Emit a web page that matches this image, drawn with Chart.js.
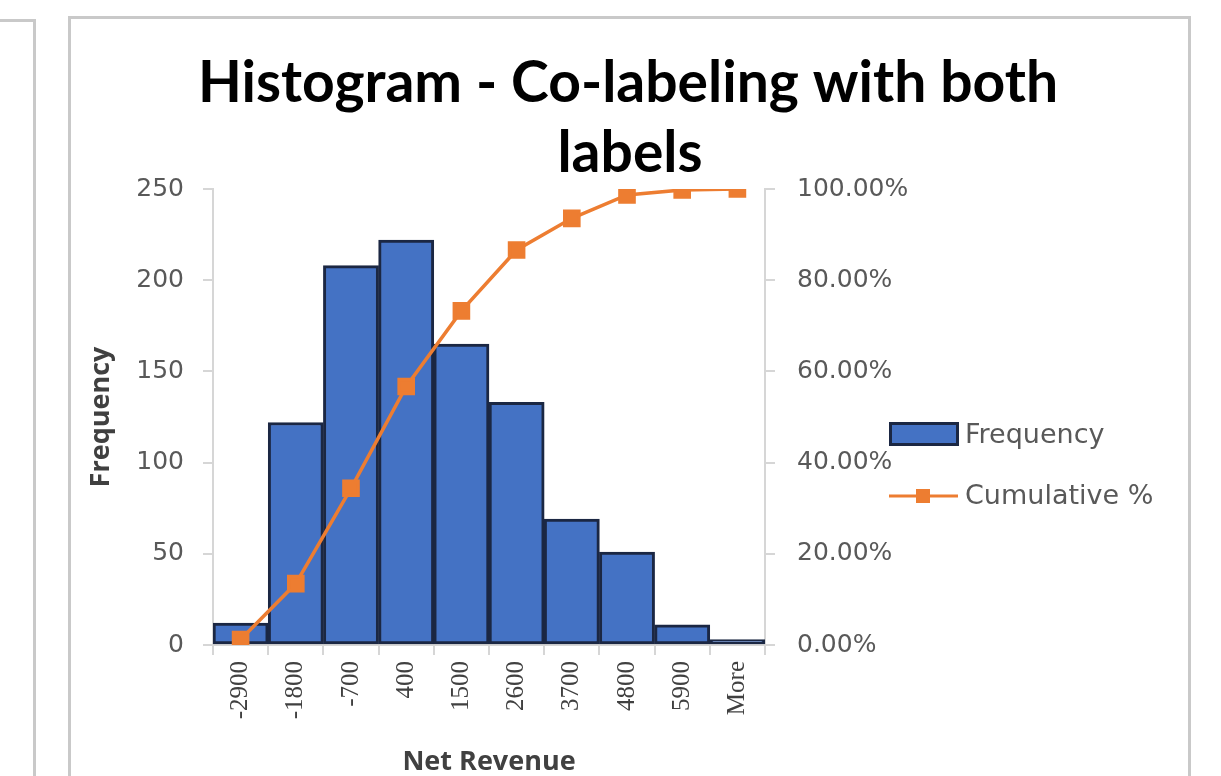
<!DOCTYPE html>
<html>
<head>
<meta charset="utf-8">
<script src="https://cdn.jsdelivr.net/npm/chart.js@4/dist/chart.umd.min.js"></script>
<style>
  html, body { margin: 0; padding: 0; background: #fff; }
  body { width: 1221px; height: 776px; position: relative; overflow: hidden; }
  .panel { position: absolute; border: 3px solid #c9c9c9; box-sizing: border-box; }
  #side { left: -10px; top: 19px; width: 46px; height: 800px; }
  #frame { left: 68px; top: 16px; width: 1123px; height: 800px; }
  #chart { position: absolute; left: 0; top: 0; }
</style>
</head>
<body>
<div class="panel" id="side"></div>
<div class="panel" id="frame"></div>
<canvas id="chart" width="1221" height="776"></canvas>
<script>
// Histogram bins (upper bin edges) for net revenue
const binLabels = ['-2900', '-1800', '-700', '400', '1500', '2600', '3700', '4800', '5900', 'More'];
// Count of records falling in each bin
const frequency = [12, 122, 208, 222, 165, 133, 69, 51, 11, 3];
// Running share of records up to each bin
const cumulativeShare = [0.0121, 0.1347, 0.3437, 0.5668, 0.7327, 0.8663, 0.9357, 0.9869, 0.9980, 1.0];
// Chart heading, split over two lines
const titleLines = ['Histogram - Co-labeling with both', 'labels'];

const BLUE = '#4472C4';
const BAR_EDGE = '#1b2743';
const ORANGE = '#ED7D31';
const AXIS = '#d6d6d6';
const TICK_TEXT = '#595959';

// Heading drawn above the plot
const headingPlugin = {
  id: 'heading',
  afterDraw(chart) {
    const ctx = chart.ctx;
    ctx.save();
    ctx.fillStyle = '#000';
    ctx.font = 'bold 57px Lato';
    ctx.textAlign = 'center';
    ctx.textBaseline = 'alphabetic';
    ctx.fillText(titleLines[0], 628, 102);
    ctx.fillText(titleLines[1], 630, 172);
    ctx.restore();
  }
};

// Legend to the right of the plot, built from the datasets
const sideLegendPlugin = {
  id: 'sideLegend',
  afterDraw(chart) {
    const ctx = chart.ctx;
    const [barSet, lineSet] = chart.data.datasets;
    ctx.save();
    // bar entry
    ctx.fillStyle = barSet.backgroundColor;
    ctx.fillRect(890, 423, 68, 22);
    ctx.strokeStyle = barSet.borderColor;
    ctx.lineWidth = 3;
    ctx.strokeRect(890.5, 423.5, 67, 21);
    // line entry
    ctx.strokeStyle = lineSet.borderColor;
    ctx.lineWidth = 3;
    ctx.beginPath();
    ctx.moveTo(889, 496);
    ctx.lineTo(958, 496);
    ctx.stroke();
    ctx.fillStyle = lineSet.backgroundColor;
    ctx.fillRect(916, 489, 14, 14);
    // labels
    ctx.fillStyle = TICK_TEXT;
    ctx.font = '27px "DejaVu Sans"';
    ctx.textAlign = 'left';
    ctx.textBaseline = 'middle';
    ctx.fillText(barSet.label, 965, 436);
    ctx.fillText(lineSet.label, 965, 497);
    ctx.restore();
  }
};

new Chart(document.getElementById('chart'), {
  data: {
    labels: binLabels,
    datasets: [
      {
        type: 'bar',
        label: 'Frequency',
        data: frequency,
        yAxisID: 'y',
        backgroundColor: BLUE,
        borderColor: BAR_EDGE,
        borderWidth: 3,
        borderSkipped: false,
        barPercentage: 1,
        categoryPercentage: 1,
        order: 2
      },
      {
        type: 'line',
        label: 'Cumulative %',
        data: cumulativeShare,
        yAxisID: 'y1',
        borderColor: ORANGE,
        backgroundColor: ORANGE,
        borderWidth: 3.5,
        pointStyle: 'rect',
        pointRadius: 10,
        pointHoverRadius: 10,
        tension: 0,
        order: 1
      }
    ]
  },
  options: {
    responsive: false,
    animation: false,
    devicePixelRatio: 1,
    layout: { padding: { left: 85, top: 189, right: 276, bottom: 0 } },
    plugins: {
      legend: { display: false },
      title: { display: false },
      tooltip: { enabled: false }
    },
    scales: {
      x: {
        type: 'category',
        offset: true,
        grid: { offset: true, drawOnChartArea: false, drawTicks: true, tickLength: 10, color: AXIS, lineWidth: 2 },
        border: { display: true, color: AXIS, width: 2 },
        ticks: {
          minRotation: 90, maxRotation: 90, autoSkip: false,
          font: { family: 'Liberation Serif', size: 25 },
          color: '#404040', padding: 6
        },
        title: {
          display: true, text: 'Net Revenue',
          font: { family: 'Open Sans', weight: 'bold', size: 27, lineHeight: 1 },
          color: '#404040', padding: { top: 0, bottom: 0.5 }
        },
        afterFit(scale) { scale.height = 131; }
      },
      y: {
        position: 'left',
        min: 0, max: 250,
        grid: { drawOnChartArea: false, drawTicks: true, tickLength: 10, color: AXIS, lineWidth: 2 },
        border: { display: true, color: AXIS, width: 2 },
        ticks: {
          stepSize: 50,
          font: { family: 'DejaVu Sans', size: 25 },
          color: TICK_TEXT, padding: 19
        },
        title: {
          display: true, text: 'Frequency',
          font: { family: 'Open Sans', weight: 'bold', size: 27, lineHeight: 1 },
          color: '#404040', padding: { top: 2.5, bottom: 0 }
        },
        afterFit(scale) { scale.width = 128; }
      },
      y1: {
        position: 'right',
        min: 0, max: 1,
        grid: { drawOnChartArea: false, drawTicks: true, tickLength: 10, color: AXIS, lineWidth: 2 },
        border: { display: true, color: AXIS, width: 2 },
        ticks: {
          stepSize: 0.2,
          font: { family: 'DejaVu Sans', size: 25 },
          color: TICK_TEXT, padding: 22,
          callback: (v) => (v * 100).toFixed(2) + '%'
        },
        afterFit(scale) { scale.width = 180; }
      }
    }
  },
  plugins: [headingPlugin, sideLegendPlugin]
});
</script>
</body>
</html>
